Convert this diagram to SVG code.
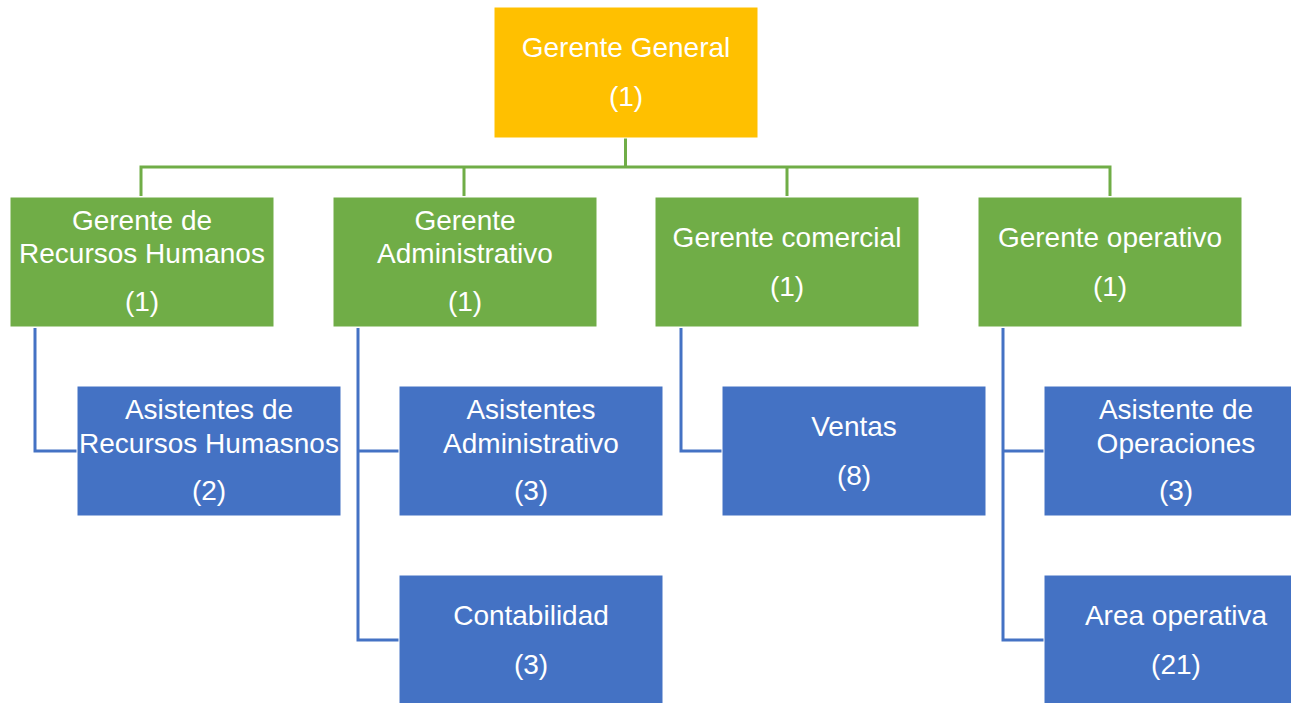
<svg xmlns="http://www.w3.org/2000/svg" width="1291" height="703" viewBox="0 0 1291 703">
<style>
.box{stroke:#ffffff;stroke-width:1}
.top{fill:#FFC000}
.mgr{fill:#70AD47}
.sub{fill:#4472C4}
text{font-family:"Liberation Sans",Arial,sans-serif;font-size:28px;fill:#ffffff;text-anchor:middle}
.cg{fill:none;stroke:#70AD47;stroke-width:3}
.cb{fill:none;stroke:#4472C4;stroke-width:3}
</style>
<rect width="1291" height="703" fill="#ffffff"/>
<g id="connectors">
<path class="cg" d="M625.5 138V167M141 196V167H1110V196M464 167V196M787 167V196"/>
<path class="cb" d="M35 328V451H77"/>
<path class="cb" d="M358 328V640H399M358 451H399"/>
<path class="cb" d="M681 328V451H722"/>
<path class="cb" d="M1003 328V640H1044M1003 451H1044"/>
</g>
<g id="gerente-general">
<rect class="box top" x="494" y="7" width="264" height="131"/>
<text x="626" y="57">Gerente General</text>
<text x="626" y="106">(1)</text>
</g>
<g id="gerente-rrhh">
<rect class="box mgr" x="10" y="197" width="264" height="130"/>
<text x="142" y="230">Gerente de</text>
<text x="142" y="263">Recursos Humanos</text>
<text x="142" y="311">(1)</text>
</g>
<g id="gerente-administrativo">
<rect class="box mgr" x="333" y="197" width="264" height="130"/>
<text x="465" y="230">Gerente</text>
<text x="465" y="263">Administrativo</text>
<text x="465" y="311">(1)</text>
</g>
<g id="gerente-comercial">
<rect class="box mgr" x="655" y="197" width="264" height="130"/>
<text x="787" y="247">Gerente comercial</text>
<text x="787" y="296">(1)</text>
</g>
<g id="gerente-operativo">
<rect class="box mgr" x="978" y="197" width="264" height="130"/>
<text x="1110" y="247">Gerente operativo</text>
<text x="1110" y="296">(1)</text>
</g>
<g id="asistentes-rrhh">
<rect class="box sub" x="77" y="386" width="264" height="130"/>
<text x="209" y="419">Asistentes de</text>
<text x="209" y="453">Recursos Humasnos</text>
<text x="209" y="500">(2)</text>
</g>
<g id="asistentes-administrativo">
<rect class="box sub" x="399" y="386" width="264" height="130"/>
<text x="531" y="419">Asistentes</text>
<text x="531" y="453">Administrativo</text>
<text x="531" y="500">(3)</text>
</g>
<g id="contabilidad">
<rect class="box sub" x="399" y="575" width="264" height="130"/>
<text x="531" y="625">Contabilidad</text>
<text x="531" y="674">(3)</text>
</g>
<g id="ventas">
<rect class="box sub" x="722" y="386" width="264" height="130"/>
<text x="854" y="436">Ventas</text>
<text x="854" y="485">(8)</text>
</g>
<g id="asistente-operaciones">
<rect class="box sub" x="1044" y="386" width="264" height="130"/>
<text x="1176" y="419">Asistente de</text>
<text x="1176" y="453">Operaciones</text>
<text x="1176" y="500">(3)</text>
</g>
<g id="area-operativa">
<rect class="box sub" x="1044" y="575" width="264" height="130"/>
<text x="1176" y="625">Area operativa</text>
<text x="1176" y="674">(21)</text>
</g>
</svg>
